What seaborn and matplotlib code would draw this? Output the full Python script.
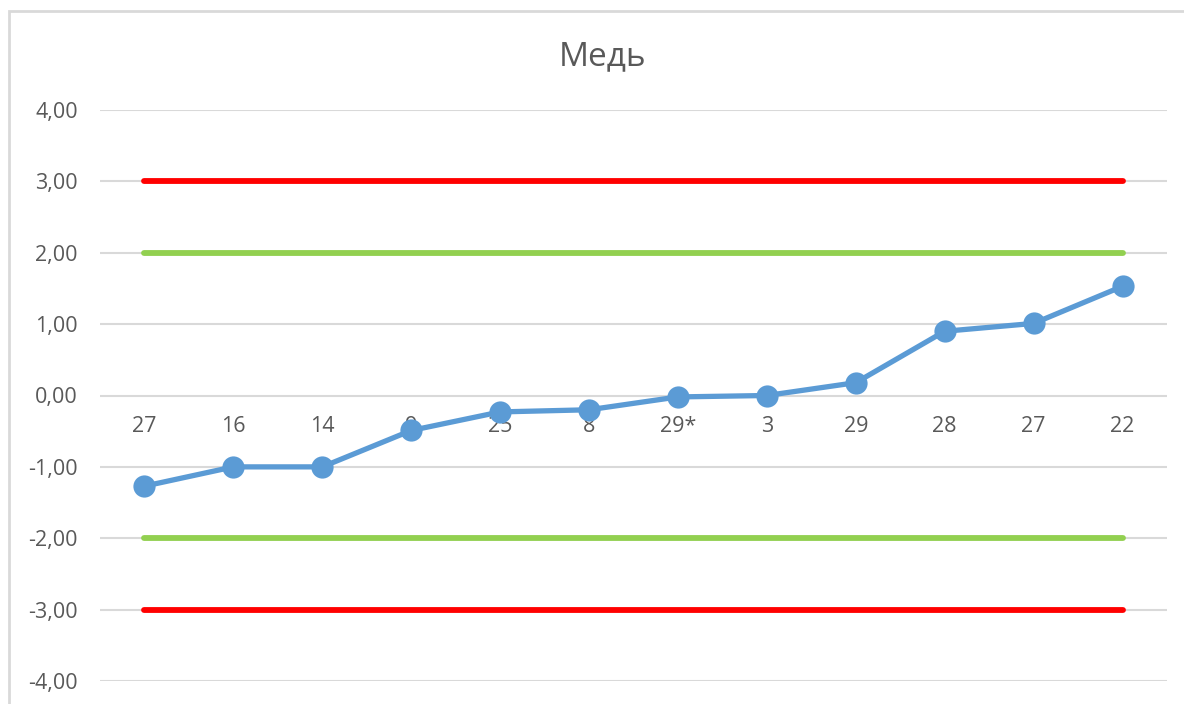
import numpy as np
import pandas as pd
import matplotlib
matplotlib.use("Agg")
import matplotlib.pyplot as plt
import matplotlib.patches as patches
import seaborn as sns

# chart data
categories = ["27", "16", "14", "9", "25", "8", "29*", "3", "29", "28", "27", "22"]
values = [-1.27, -1.00, -1.00, -0.49, -0.23, -0.20, -0.02, 0.00, 0.18, 0.90, 1.01, 1.53]
red_upper = [3.0] * 12
red_lower = [-3.0] * 12
green_upper = [2.0] * 12
green_lower = [-2.0] * 12
y_ticks = [-4, -3, -2, -1, 0, 1, 2, 3, 4]

df = pd.DataFrame({
    "pos": np.arange(len(categories)),
    "value": values,
    "red_up": red_upper,
    "red_lo": red_lower,
    "green_up": green_upper,
    "green_lo": green_lower,
})

sns.set_style("white")
plt.rcParams["font.family"] = ["Open Sans", "DejaVu Sans"]

text_color = "#595959"
grid_color = "#D9D9D9"

fig = plt.figure(figsize=(11.84, 7.04), dpi=100)
ax = fig.add_axes([100 / 1184, 1 - 681 / 704, 1067 / 1184, 571 / 704])

# limit lines
for col, color in [("red_up", "#FF0000"), ("red_lo", "#FF0000"),
                   ("green_up", "#92D050"), ("green_lo", "#92D050")]:
    sns.lineplot(data=df, x="pos", y=col, ax=ax, color=color, linewidth=4.2,
                 solid_capstyle="round", zorder=3)

# main series
sns.lineplot(data=df, x="pos", y="value", ax=ax, color="#5B9BD5", linewidth=3.8,
             marker="o", markersize=16, markeredgewidth=0, zorder=4)

ax.set_xlim(-0.5, len(categories) - 0.5)
ax.set_ylim(-4, 4)
ax.set_yticks(y_ticks)
ax.set_yticklabels([f"{t:.2f}".replace(".", ",") for t in y_ticks])
ax.set_xticks(df["pos"])
ax.set_xticklabels(categories)

ax.grid(axis="y", color=grid_color, linewidth=1.5, zorder=0)
ax.set_axisbelow(True)
for s in ax.spines.values():
    s.set_visible(False)
ax.spines["bottom"].set_position(("data", 0))

ax.tick_params(axis="x", length=0, pad=15, labelsize=15.5, labelcolor=text_color)
ax.tick_params(axis="y", length=0, pad=16, labelsize=15.5, labelcolor=text_color)
ax.set_xlabel("")
ax.set_ylabel("")

fig.text(603 / 1184, 1 - 57 / 704, "Медь", ha="center", va="center",
         fontsize=24, color=text_color)

# chart border (cut off at right and bottom)
border = patches.Rectangle((9 / 1184, -0.2), 1.2, 1.2 - 11 / 704,
                           transform=fig.transFigure, fill=False,
                           edgecolor=grid_color, linewidth=2)
fig.add_artist(border)

fig.savefig("out.png", dpi=100)
